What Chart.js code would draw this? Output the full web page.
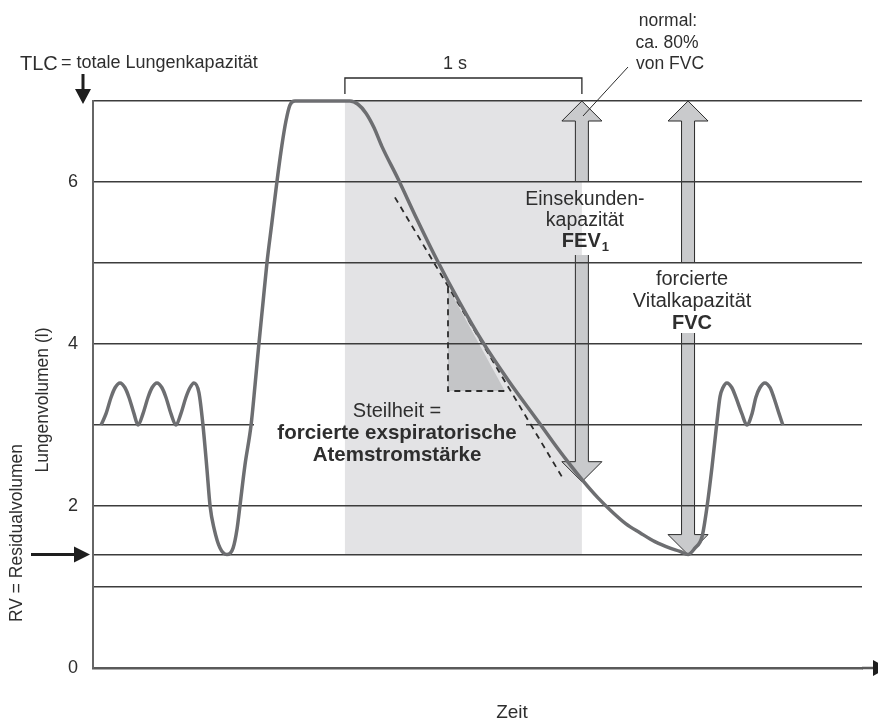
<!DOCTYPE html>
<html lang="de">
<head>
<meta charset="utf-8">
<title>Spirometrie</title>
<script src="https://cdn.jsdelivr.net/npm/chart.js@4.4.1/dist/chart.umd.min.js"></script>
<style>
  html, body { margin: 0; padding: 0; background: #fff; }
  canvas { display: block; }
</style>
</head>
<body>
<canvas id="chart" width="878" height="723"></canvas>
<script>
// Spirometerkurve: Zeit (s) und Lungenvolumen (l)
const curveTime = [
    0.034, 0.055, 0.076, 0.093, 0.114, 0.135, 0.152, 0.173, 0.190,
    0.211, 0.232, 0.249, 0.270, 0.291, 0.308, 0.329, 0.350,
    0.371, 0.392, 0.409, 0.426, 0.447, 0.464, 0.481, 0.494, 0.511, 0.536, 0.565,
    0.591, 0.608, 0.620, 0.641, 0.667, 0.684, 0.700, 0.717, 0.734, 0.755, 0.776,
    0.797, 0.814, 0.831, 0.852,
    1.084, 1.118, 1.152, 1.186, 1.219, 1.287, 1.367, 1.451, 1.544, 1.641, 1.755,
    1.882, 1.941, 2.000, 2.068, 2.131, 2.190, 2.249, 2.308, 2.371, 2.435, 2.477, 2.511,
    2.540, 2.570, 2.591, 2.612, 2.633, 2.646, 2.658, 2.675, 2.696, 2.713, 2.738, 2.759,
    2.781, 2.797, 2.814, 2.835, 2.857, 2.873, 2.895, 2.911
];
const curveVolume = [
    3.0, 3.14, 3.34, 3.46, 3.52, 3.46, 3.34, 3.14, 3.0,
    3.14, 3.34, 3.46, 3.52, 3.46, 3.34, 3.14, 3.0,
    3.14, 3.34, 3.46, 3.52, 3.4, 3.0, 2.45, 2.0, 1.72, 1.48, 1.4,
    1.48, 1.72, 2.0, 2.5, 3.0, 3.5, 4.0, 4.5, 5.0, 5.5, 6.0,
    6.45, 6.75, 6.95, 7.0,
    7.0, 6.96, 6.85, 6.67, 6.44, 6.04, 5.54, 5.04, 4.53, 4.04, 3.54,
    3.03, 2.79, 2.56, 2.31, 2.10, 1.93, 1.78, 1.67, 1.56, 1.48, 1.44, 1.4,
    1.48, 1.62, 1.99, 2.48, 3.04, 3.35, 3.46, 3.52, 3.46, 3.34, 3.14, 3.0,
    3.14, 3.34, 3.46, 3.52, 3.46, 3.34, 3.14, 3.0
];

// Gitterlinien und beschriftete Ticks (l)
const gridVolumes = [0, 1, 1.4, 2, 3, 4, 5, 6, 7];
const labeledVolumes = [0, 2, 4, 6];

const tlcVolume = 7;
const rvVolume = 1.4;
const fevStart = 1.063;   // Beginn der forcierten Exspiration (s)
const fevEnd = 2.063;     // 1 s später
const fev1Volume = 2.3;   // Volumen nach 1 s
const fvcTime = 2.511;

// Tangente und Steigungsdreieck
const tangentTime = [1.274, 1.979];
const tangentVolume = [5.81, 2.36];
const slopeTime = [1.498, 1.498, 1.738];
const slopeVolume = [4.70, 3.42, 3.42];

const FONT = '"Liberation Sans", Arial, sans-serif';

function label(ctx, str, x, y, size, bold, align) {
    ctx.font = (bold ? 'bold ' : '') + size + 'px ' + FONT;
    ctx.textAlign = align || 'center';
    ctx.textBaseline = 'alphabetic';
    ctx.fillText(str, x, y);
}

// Blockpfeil mit zwei Spitzen, in der Mitte fuer die Beschriftung unterbrochen
function blockArrow(ctx, x, top, bottom, gapTop, gapBottom) {
    const hw = 20, hl = 20, sw = 6.5;
    ctx.fillStyle = '#c9cacc';
    ctx.strokeStyle = '#2b2b2b';
    ctx.lineWidth = 1;
    const upper = [[x - sw, gapTop], [x - sw, top + hl], [x - hw, top + hl], [x, top],
        [x + hw, top + hl], [x + sw, top + hl], [x + sw, gapTop]];
    const lower = [[x - sw, gapBottom], [x - sw, bottom - hl], [x - hw, bottom - hl], [x, bottom],
        [x + hw, bottom - hl], [x + sw, bottom - hl], [x + sw, gapBottom]];
    [upper, lower].forEach(pts => {
        ctx.beginPath();
        pts.forEach((p, i) => i ? ctx.lineTo(p[0], p[1]) : ctx.moveTo(p[0], p[1]));
        ctx.closePath();
        ctx.fill();
        ctx.beginPath();
        pts.forEach((p, i) => i ? ctx.lineTo(p[0], p[1]) : ctx.moveTo(p[0], p[1]));
        ctx.stroke();
    });
}

const spiroPlugin = {
    id: 'spiro',
    beforeDraw(chart) {
        const ctx = chart.ctx;
        const x = chart.scales.x, y = chart.scales.y;
        ctx.save();

        // 1-s-Fenster
        ctx.fillStyle = '#e3e3e5';
        const x0 = x.getPixelForValue(fevStart), x1 = x.getPixelForValue(fevEnd);
        ctx.fillRect(x0, y.getPixelForValue(tlcVolume), x1 - x0,
            y.getPixelForValue(rvVolume) - y.getPixelForValue(tlcVolume));

        // Steigungsdreieck
        ctx.fillStyle = '#c4c5c7';
        ctx.beginPath();
        slopeTime.forEach((t, i) => {
            const px = x.getPixelForValue(t), py = y.getPixelForValue(slopeVolume[i]);
            i ? ctx.lineTo(px, py) : ctx.moveTo(px, py);
        });
        ctx.closePath();
        ctx.fill();

        // FEV1- und FVC-Pfeile
        blockArrow(ctx, x.getPixelForValue(fevEnd), y.getPixelForValue(tlcVolume),
            y.getPixelForValue(fev1Volume), 182, 255);
        blockArrow(ctx, x.getPixelForValue(fvcTime), y.getPixelForValue(tlcVolume),
            y.getPixelForValue(rvVolume), 262, 333);
        ctx.restore();
    },
    beforeDatasetsDraw(chart) {
        const ctx = chart.ctx;
        const x = chart.scales.x, y = chart.scales.y;
        ctx.save();

        // Gitterlinie hinter der Beschriftung "Steilheit" ausblenden
        const x0 = x.getPixelForValue(fevStart);
        const yl = y.getPixelForValue(3);
        ctx.fillStyle = '#ffffff';
        ctx.fillRect(254, yl - 2, x0 - 254, 4);
        ctx.fillStyle = '#e3e3e5';
        ctx.fillRect(x0, yl - 2, 526 - x0, 4);

        // gestrichelte Tangente und Dreieck
        ctx.strokeStyle = '#2b2b2b';
        ctx.lineWidth = 1.8;
        ctx.setLineDash([6, 5]);
        ctx.beginPath();
        ctx.moveTo(x.getPixelForValue(tangentTime[0]), y.getPixelForValue(tangentVolume[0]));
        ctx.lineTo(x.getPixelForValue(tangentTime[1]), y.getPixelForValue(tangentVolume[1]));
        ctx.moveTo(x.getPixelForValue(slopeTime[0]), y.getPixelForValue(slopeVolume[0]));
        ctx.lineTo(x.getPixelForValue(slopeTime[1]), y.getPixelForValue(slopeVolume[1]));
        ctx.lineTo(x.getPixelForValue(slopeTime[2]), y.getPixelForValue(slopeVolume[2]));
        ctx.stroke();
        ctx.restore();
    },
    afterDraw(chart) {
        const ctx = chart.ctx;
        const x = chart.scales.x, y = chart.scales.y;
        const area = chart.chartArea;
        ctx.save();

        // Zeitachse mit Pfeil
        ctx.strokeStyle = '#5a5a5a';
        ctx.lineWidth = 2.5;
        ctx.beginPath();
        ctx.moveTo(area.right, area.bottom);
        ctx.lineTo(874, area.bottom);
        ctx.stroke();
        ctx.fillStyle = '#1e1e1e';
        ctx.beginPath();
        ctx.moveTo(873, area.bottom - 8);
        ctx.lineTo(887, area.bottom);
        ctx.lineTo(873, area.bottom + 8);
        ctx.closePath();
        ctx.fill();

        // TLC- und RV-Pfeile
        const yT = y.getPixelForValue(tlcVolume), yR = y.getPixelForValue(rvVolume);
        ctx.strokeStyle = '#1e1e1e';
        ctx.lineWidth = 3;
        ctx.beginPath();
        ctx.moveTo(83, yT - 27);
        ctx.lineTo(83, yT - 10);
        ctx.moveTo(31, yR);
        ctx.lineTo(76, yR);
        ctx.stroke();
        ctx.beginPath();
        ctx.moveTo(75, yT - 12);
        ctx.lineTo(91, yT - 12);
        ctx.lineTo(83, yT + 3);
        ctx.closePath();
        ctx.moveTo(74, yR - 8);
        ctx.lineTo(74, yR + 8);
        ctx.lineTo(90, yR);
        ctx.closePath();
        ctx.fill();

        // 1-s-Klammer
        const x0 = x.getPixelForValue(fevStart), x1 = x.getPixelForValue(fevEnd);
        ctx.strokeStyle = '#2b2b2b';
        ctx.lineWidth = 1.3;
        ctx.beginPath();
        ctx.moveTo(x0, 94);
        ctx.lineTo(x0, 78);
        ctx.lineTo(x1, 78);
        ctx.lineTo(x1, 94);
        ctx.stroke();

        // Hinweislinie zu FEV1
        ctx.lineWidth = 1;
        ctx.beginPath();
        ctx.moveTo(628, 67);
        ctx.lineTo(583, 116);
        ctx.stroke();

        // Texte
        ctx.fillStyle = '#2e2e2e';
        label(ctx, 'TLC', 20, 70, 20, false, 'left');
        label(ctx, '= totale Lungenkapazität', 61, 68, 18, false, 'left');
        label(ctx, '1 s', 455, 69, 18);
        label(ctx, 'normal:', 668, 26, 17.5);
        label(ctx, 'ca. 80%', 667, 48, 17.5);
        label(ctx, 'von FVC', 670, 69, 17.5);

        const fx = x.getPixelForValue(fevEnd) + 3;
        label(ctx, 'Einsekunden-', fx, 205, 19.5);
        label(ctx, 'kapazität', fx, 226, 19.5);
        ctx.font = 'bold 20px ' + FONT;
        const wFev = ctx.measureText('FEV').width;
        ctx.font = 'bold 13px ' + FONT;
        const wSub = ctx.measureText('1').width;
        label(ctx, 'FEV', fx - (wFev + wSub) / 2, 247, 20, true, 'left');
        label(ctx, '1', fx - (wFev + wSub) / 2 + wFev + 1, 251, 13, true, 'left');

        const vx = x.getPixelForValue(fvcTime) + 4;
        label(ctx, 'forcierte', vx, 285, 20);
        label(ctx, 'Vitalkapazität', vx, 307, 20);
        label(ctx, 'FVC', vx, 329, 20, true);

        label(ctx, 'Steilheit =', 397, 417, 20);
        label(ctx, 'forcierte exspiratorische', 397, 439, 20.5, true);
        label(ctx, 'Atemstromstärke', 397, 461, 20.5, true);

        label(ctx, 'Zeit', 512, 718, 19);

        ctx.translate(48, 400);
        ctx.rotate(-Math.PI / 2);
        label(ctx, 'Lungenvolumen (l)', 0, 0, 17.5);
        ctx.rotate(Math.PI / 2);
        ctx.translate(-26, 133);
        ctx.rotate(-Math.PI / 2);
        label(ctx, 'RV = Residualvolumen', 0, 0, 17.5);
        ctx.restore();
    }
};

new Chart(document.getElementById('chart'), {
    type: 'line',
    data: {
        datasets: [{
            data: curveTime.map((t, i) => ({ x: t, y: curveVolume[i] })),
            borderColor: '#6d6e71',
            borderWidth: 3.5,
            pointRadius: 0,
            fill: false,
            cubicInterpolationMode: 'monotone',
            clip: 5
        }]
    },
    options: {
        responsive: false,
        animation: false,
        devicePixelRatio: 1,
        layout: { padding: { top: 101, right: 16, bottom: 0, left: 0 } },
        plugins: { legend: { display: false }, tooltip: { enabled: false } },
        scales: {
            x: {
                type: 'linear',
                min: 0,
                max: 3.245,
                ticks: { display: false },
                grid: { display: false },
                border: { display: true, color: '#5a5a5a', width: 2.5 },
                afterFit: s => { s.height = 55; }
            },
            y: {
                min: 0,
                max: 7,
                afterBuildTicks: s => { s.ticks = gridVolumes.map(v => ({ value: v })); },
                ticks: {
                    autoSkip: false,
                    padding: 15,
                    color: '#2e2e2e',
                    font: { family: FONT, size: 18 },
                    callback: v => labeledVolumes.includes(v) ? String(v) : ''
                },
                grid: {
                    drawTicks: false,
                    lineWidth: 1.4,
                    color: c => (c.tick && c.tick.value === 0) ? 'rgba(0,0,0,0)' : '#3c3c3c'
                },
                border: { display: true, color: '#666', width: 2 },
                afterFit: s => { s.width = 93; }
            }
        }
    },
    plugins: [spiroPlugin]
});
</script>
</body>
</html>
